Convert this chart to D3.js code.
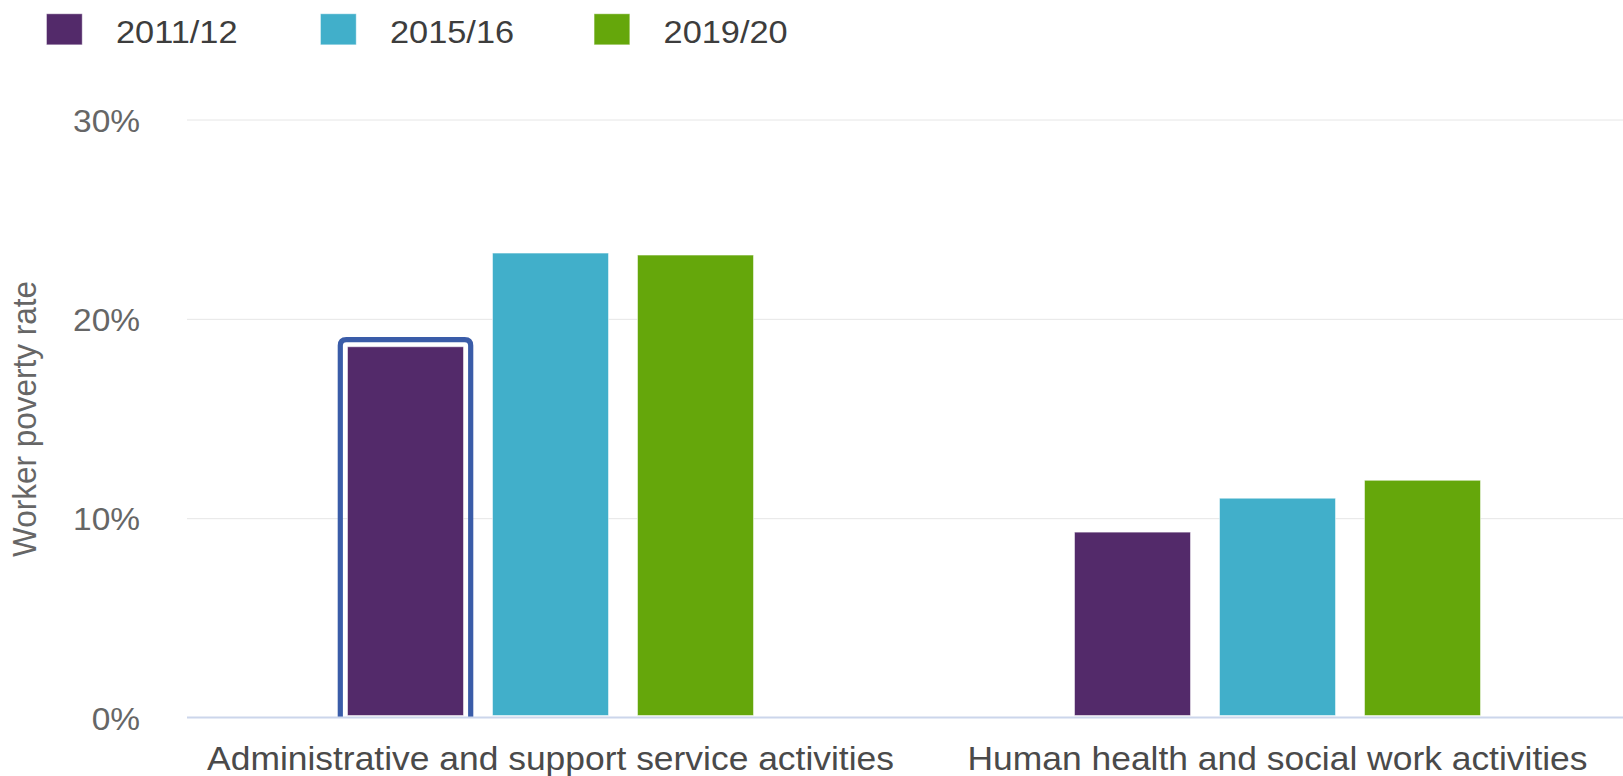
<!DOCTYPE html>
<html>
<head>
<meta charset="utf-8">
<script src="https://cdn.jsdelivr.net/npm/d3@7"></script>
<style>
  html, body { margin: 0; padding: 0; background: #fff; }
  svg { display: block; font-family: "Liberation Sans", Arial, sans-serif; }
</style>
</head>
<body>
<svg id="chart" width="1623" height="776"></svg>
<script>
// ---- data ----
const categories = ["Administrative and support service activities", "Human health and social work activities"];
const seriesNames = ["2011/12", "2015/16", "2019/20"];
const values2011 = [18.6, 9.3];
const values2015 = [23.3, 11.0];
const values2019 = [23.2, 11.9];
const yTicks = [0, 10, 20, 30];
const yTitle = "Worker poverty rate";
const colors = ["#532a6a", "#41afca", "#65a70b"];
const highlighted = { series: 0, category: 0 };

const seriesValues = [values2011, values2015, values2019];
const rows = categories.map((c, i) => ({
  category: c,
  values: seriesNames.map((s, j) => ({ series: s, idx: j, value: seriesValues[j][i] }))
}));

// ---- layout ----
const svg = d3.select("#chart");
const SX = 1.08; // horizontal glyph stretch of reference
const plotLeft = 187, bandW = 727;
const y0px = 717.5, y30px = 119.5;

const x0 = d3.scaleBand().domain(categories).range([plotLeft, plotLeft + 2 * bandW]).paddingInner(0).paddingOuter(0);
const groupW = 406;
const x1 = d3.scaleBand().domain(seriesNames).range([0, groupW]).paddingInner(0.2).paddingOuter(0);
const groupOffset = (x0.bandwidth() - groupW) / 2;
const y = d3.scaleLinear().domain([0, 30]).range([y0px, y30px]);

// gridlines + y labels
const yAxis = d3.axisLeft(y).tickValues(yTicks).tickFormat(d => d + "%").tickSize(-(1623 - plotLeft)).tickPadding(0);
const gy = svg.append("g").attr("transform", `translate(${plotLeft},0)`).call(yAxis);
gy.select(".domain").remove();
gy.selectAll(".tick line").attr("stroke", "#e6e6e6").attr("stroke-width", 1);
gy.selectAll(".tick").filter(d => d === 0).select("line").attr("stroke", "none");
gy.selectAll(".tick text")
  .attr("x", -47 / SX)
  .attr("dy", "0.38em")
  .attr("transform", `scale(${SX},1)`)
  .attr("fill", "#666666")
  .style("font-size", "31px")
  .style("font-family", "'Liberation Sans', Arial, sans-serif");

// y title
svg.append("text")
  .attr("transform", `translate(36,419) rotate(-90) scale(1,${SX})`)
  .attr("text-anchor", "middle")
  .attr("fill", "#666666")
  .style("font-size", "31.5px")
  .text(yTitle);

// bars
const groups = svg.append("g").selectAll("g.grp").data(rows).join("g")
  .attr("class", "grp")
  .attr("transform", d => `translate(${x0(d.category) + groupOffset},0)`);

groups.selectAll("rect").data(d => d.values).join("rect")
  .attr("x", d => x1(d.series))
  .attr("y", d => y(d.value))
  .attr("width", x1.bandwidth())
  .attr("height", d => y(0) - y(d.value) - 2)
  .attr("fill", d => colors[d.idx])
  .attr("stroke", "#ffffff")
  .attr("stroke-opacity", 0.5)
  .attr("stroke-width", 1);

// hover highlight on one bar (left, top, right sides)
{
  const hc = categories[highlighted.category];
  const hs = seriesNames[highlighted.series];
  const hv = seriesValues[highlighted.series][highlighted.category];
  const bx = x0(hc) + groupOffset + x1(hs);
  const bw = x1.bandwidth();
  const by = y(hv);
  const off = 7.2, r = 6;
  const left = bx - off, right = bx + bw + off, top = by - off, bottom = y(0);
  svg.append("path")
    .attr("d", `M${left},${bottom} L${left},${top + r} Q${left},${top} ${left + r},${top} L${right - r},${top} Q${right},${top} ${right},${top + r} L${right},${bottom}`)
    .attr("fill", "none")
    .attr("stroke", "#3a5ca8")
    .attr("stroke-width", 5.2);
}

// x axis
const xAxis = d3.axisBottom(x0).tickSize(0).tickPadding(0);
const gx = svg.append("g").attr("transform", `translate(0,${y0px})`).call(xAxis);
gx.select(".domain").attr("stroke", "#ccd6eb").attr("stroke-width", 2).attr("d", `M${plotLeft},0H1623`);
gx.selectAll(".tick text")
  .attr("y", 52.5)
  .attr("dy", 0)
  .attr("transform", `scale(${SX},1)`)
  .attr("fill", "#4a4a4a")
  .style("font-size", "32.8px")
  .style("font-family", "'Liberation Sans', Arial, sans-serif");

// legend
const legendX = [46, 320, 593.6];
const leg = svg.append("g").selectAll("g").data(seriesNames).join("g")
  .attr("transform", (d, i) => `translate(${legendX[i]},0)`);
leg.append("rect")
  .attr("x", 0.5).attr("y", 13.8)
  .attr("width", 35.7).attr("height", 31)
  .attr("fill", (d, i) => colors[i])
  .attr("stroke", "#ffffff").attr("stroke-opacity", 0.4).attr("stroke-width", 1);
leg.append("text")
  .attr("transform", `translate(70,42.7) scale(${SX},1)`)
  .attr("fill", "#3d3d3d")
  .style("font-size", "31.8px")
  .text(d => d);
</script>
</body>
</html>
